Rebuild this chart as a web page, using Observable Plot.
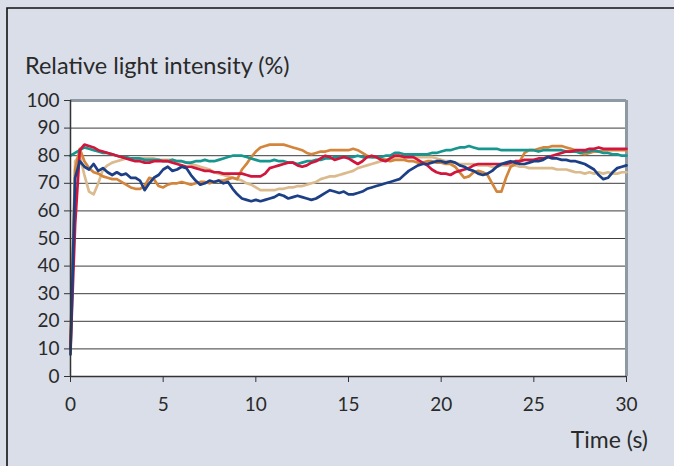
<!DOCTYPE html>
<html>
<head>
<meta charset="utf-8">
<script src="https://cdn.jsdelivr.net/npm/d3@7"></script>
<script src="https://cdn.jsdelivr.net/npm/@observablehq/plot@0.6"></script>
<style>
  html, body { margin: 0; padding: 0; background: #d9dee9; }
  #chart svg { display: block; }
</style>
</head>
<body>
<div id="chart"></div>
<script>
// Sampling times (s), one reading every 0.25 s
const seconds = d3.range(0, 121).map(i => i / 4);

// Relative light intensity (%) for each run
const blueRun = [8,72,78,76,75,77,74.5,75.5,74,73,74,73,73.5,72,72,71,67.5,70,72,73,
  75,76,74.5,75,76,75.5,73,71,69.5,70,71,70.5,71,70,70.5,68,66,64.5,64,63.5,
  64,63.5,64,64.5,65,66,65.5,64.5,65,65.5,65,64.5,64,64.5,65.5,66.5,67.5,67,66.5,67,
  66,66,66.5,67,68,68.5,69,69.5,70,70.5,71,71.5,73,74.5,75.5,76.5,77,77,77.5,78,
  78,77.5,78,77.5,76.5,76,75,74.5,73.5,73,73.5,74.5,76,77,77.5,78,77.5,77,77,77.5,
  78,78,78.5,79.5,79,79,78.5,78.5,78,78,77.5,77,76,75,73,71.5,72,74,75.5,76,76.5];
const tealRun = [80,81,82,83,82.5,82,81.5,81,81,80.5,80,79.5,79.5,79,79,79,78.5,78.5,78.5,78.5,
  78,78,78.5,78,78,77.5,77.5,78,78,78.5,78,78,78.5,79,79.5,80,80,80,79.5,79,
  78.5,78,78,78,78.5,78,78,77.5,77.5,77,77.5,78,78,78.5,78.5,79,79,79.5,79.5,79.5,
  79.5,79.5,80,79.5,79.5,79.5,79.5,79.5,80,80,81,81,80.5,80.5,80.5,80.5,80.5,80.5,81,81,
  81.5,82,82,82.5,83,83,83.5,83,82.5,82.5,82.5,82.5,82.5,82,82,82,82,82,82,82,
  82,81.5,82,82,82,82,82,81.5,81.5,81.5,81,81.5,81.5,82,81.5,81,81,80.5,80.5,80,80];
const redRun = [10,55,82,84,83.5,83,82,81.5,81,80.5,80,79.5,79,78.5,78,78,77.5,77.5,78,78,
  78,78,77.5,77,76.5,76,76,75.5,75,74.5,74.5,74,74,73.5,73.5,73.5,73.5,73.5,73,72.5,
  72.5,72.5,73.5,75.5,76,76.5,77,77.5,77.5,76.5,76,76.5,77.5,78,79,80,79.5,78.5,79,79.5,
  79,78,77,78,79.5,80,79.5,78.5,78,79,80,80,79.5,79.5,79.5,78.5,77.5,76.5,75,74,
  73.5,73.5,73,74,74.5,75,75.5,76.5,77,77,77,77,77,77,77,77.5,78,78,78.5,78.5,
  78.5,79,79,79.5,80,80.5,81,81.5,81.5,82,82,82,82.5,82.5,83,82.5,82.5,82.5,82.5,82.5,82.5];
const orangeRun = [12,75,82.5,78,75.5,74,73.5,72.5,72,71.5,71.5,70.5,69.5,68.5,68,68,69,72,71.5,69,
  68.5,69.5,70,70,70.5,70,69.5,70,70.5,70.5,70,70.5,71,71,71.5,72,71.5,75,77,79.5,
  81.5,83,83.5,84,84,84,84,83.5,83,82.5,82,81,80.5,81,81.5,81.5,82,82,82,82,
  82,82.5,82,81,80,79.5,79.5,79,78.5,78,78.5,78.5,78.5,78,78,77.5,77.5,78,78,77.5,
  77.5,77,77,76,74,72,72.5,74,74.5,74,73,70,67,67,72,76,77,78,81,82,
  82,82.5,83,83,83.5,83.5,83.5,83,82.5,82,81,80.5,81,81.5,81.5,82,82,82,82,82,82];
const tanRun = [10,78,80,73,67,66,70,75,76.5,77.5,78,78.5,79,79,79,79,79,79,79,78.5,
  78.5,78.5,78.5,78,78,77.5,77,76.5,76,75.5,75,74,73.5,73,72.5,72,71.5,71,70,69.5,
  68.5,67.5,67.5,67.5,67.5,68,68,68.5,68.5,69,69,69.5,70,70.5,71.5,72,72.5,72.5,73,73.5,
  74,74.5,75.5,76,76.5,77,77.5,78,78.5,79,79.5,79.5,79.5,79.5,79.5,79.5,79.5,79.5,79.5,79,
  78.5,78,78,77.5,77,77,77,77,76.5,76.5,76.5,76,76,76.5,76.5,76.5,76.5,76,76,75.5,
  75.5,75.5,75.5,75.5,75.5,75,75,75,74.5,74,74,73.5,74,73.5,74,73.5,74,73.5,73.5,74,74];

const xTicks = [0, 5, 10, 15, 20, 25, 30];
const yTicks = [0, 10, 20, 30, 40, 50, 60, 70, 80, 90, 100];

const runs = [
  {values: tanRun, color: "#dbbb8e"},
  {values: orangeRun, color: "#d4853c"},
  {values: tealRun, color: "#17958f"},
  {values: redRun, color: "#d0163c"},
  {values: blueRun, color: "#1d3f85"}
];

const font = "Lato, 'Open Sans', sans-serif";

const plot = Plot.plot({
  width: 674,
  height: 466,
  marginLeft: 70,
  marginRight: 48,
  marginTop: 100,
  marginBottom: 90,
  style: {background: "transparent", fontFamily: font, fontSize: "19px", color: "#2a2a2a"},
  x: {domain: [0, 30]},
  y: {domain: [0, 100]},
  marks: [
    Plot.frame({fill: "white", stroke: null}),
    Plot.gridY(yTicks, {stroke: "#3c3c3c", strokeOpacity: 1, strokeWidth: 1}),
    Plot.ruleY([100], {stroke: "#8e99a4", strokeWidth: 3}),
    Plot.ruleX([30], {stroke: "#8e99a4", strokeWidth: 3}),
    ...runs.map(r => Plot.line(seconds, {
      x: d => d,
      y: (d, i) => r.values[i],
      stroke: r.color,
      strokeWidth: 2.7,
      strokeLinejoin: "round"
    })),
    Plot.ruleY([0], {stroke: "#333", strokeWidth: 1.5}),
    Plot.ruleX([0], {stroke: "#333", strokeWidth: 1.5}),
    Plot.axisY(yTicks, {tickSize: 6, tickPadding: 5, stroke: "#333", label: null}),
    Plot.axisX(xTicks, {tickSize: 6, tickPadding: 15, stroke: "#333", label: null})
  ]
});

const svg = d3.select(plot);

// outer frame (top and left edges)
svg.append("path")
  .attr("d", "M7,466V8H674")
  .attr("fill", "none")
  .attr("stroke", "#111")
  .attr("stroke-width", 1.6);

svg.append("text")
  .attr("x", 25)
  .attr("y", 74)
  .attr("text-anchor", "start")
  .attr("font-size", 23.5)
  .attr("fill", "#2a2a2a")
  .text("Relative light intensity (%)");

svg.append("text")
  .attr("x", 648)
  .attr("y", 448)
  .attr("text-anchor", "end")
  .attr("font-size", 23)
  .attr("fill", "#2a2a2a")
  .text("Time (s)");

document.getElementById("chart").append(plot);
</script>
</body>
</html>
